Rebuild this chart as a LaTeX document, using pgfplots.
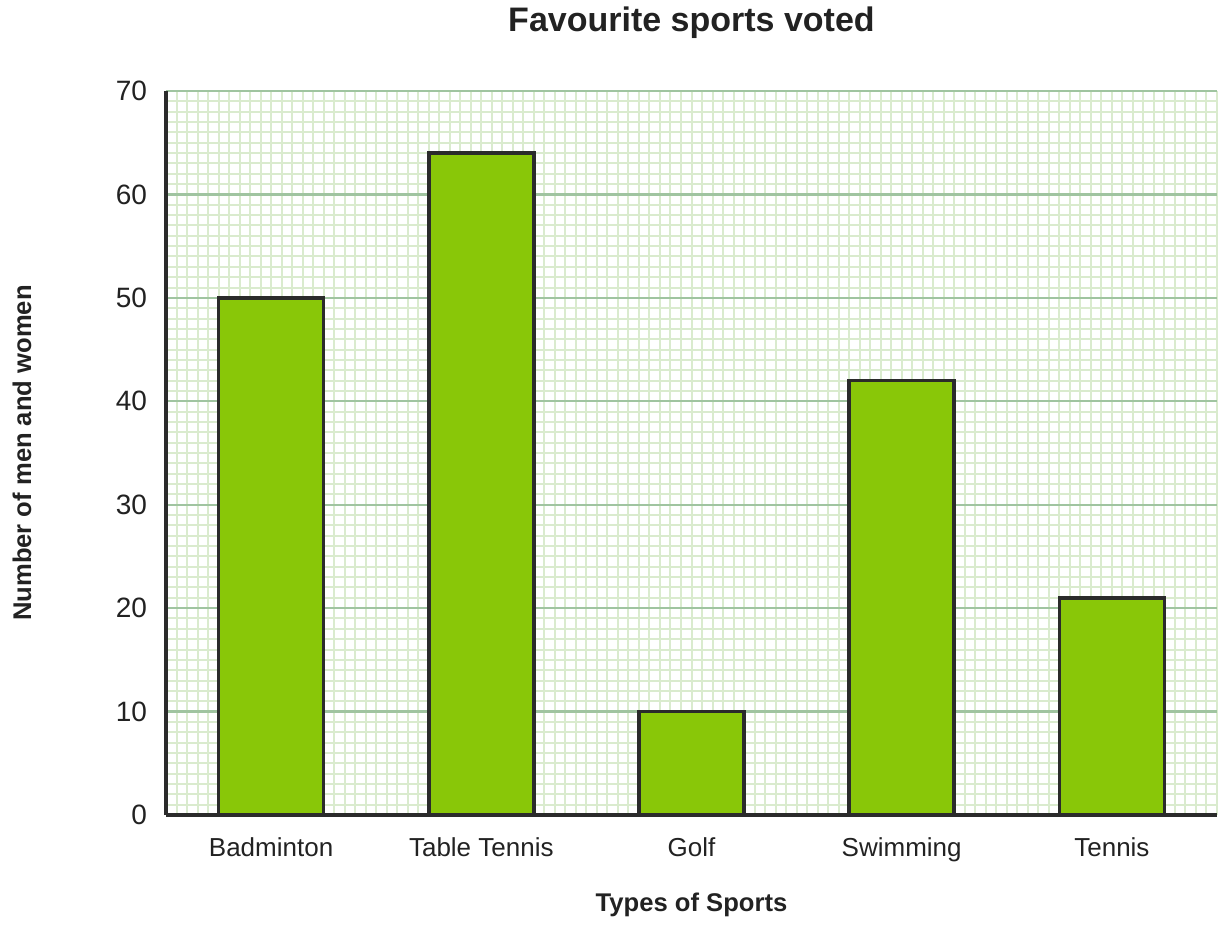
\documentclass[border=0pt]{standalone}
\usepackage{pgfplots}
\pgfplotsset{compat=1.18}
\usepackage{fontspec}
\setmainfont{Liberation Sans}
\definecolor{barfill}{RGB}{137,199,8}
\definecolor{barline}{RGB}{43,43,43}
\definecolor{majgrid}{RGB}{160,196,160}
\definecolor{mingrid}{RGB}{218,235,206}
\definecolor{txt}{RGB}{34,34,34}
\begin{document}
\begin{tikzpicture}
\path[use as bounding box] (0,0) rectangle (614bp,463bp);
\begin{axis}[
  at={(83bp,55.5bp)}, anchor=south west,
  scale only axis, width=525.5bp, height=362bp,
  xmin=-0.5, xmax=4.5, ymin=0, ymax=70,
  axis x line=bottom, axis y line=left,
  axis line style={barline, line width=2bp, -},
  xtick={0,1,2,3,4},
  xticklabels={Badminton,Table Tennis,Golf,Swimming,Tennis},
  ytick={0,10,...,70},
  minor xtick={-0.5,-0.45,...,4.51},
  minor ytick={0,1,...,70},
  major tick length=0pt, minor tick length=0pt,
  xmajorgrids=false, xminorgrids=true,
  ymajorgrids=true, yminorgrids=true,
  major grid style={majgrid, line width=1.1bp},
  minor grid style={mingrid, line width=1bp},
  /pgf/number format/assume math mode=true,
  ticklabel style={font=\fontsize{14bp}{16bp}\selectfont, text=txt},
  yticklabel style={xshift=-6bp},
  xticklabel style={font=\fontsize{13bp}{15bp}\selectfont, yshift=-8bp},
  title={Favourite sports voted},
  title style={font=\bfseries\fontsize{17bp}{20bp}\selectfont, text=txt, at={(axis description cs:0.5,1)}, anchor=center, yshift=28bp},
  xlabel={Types of Sports},
  xlabel style={font=\bfseries\fontsize{12.8bp}{15bp}\selectfont, text=txt, at={(axis description cs:0.5,0)}, anchor=center, yshift=-45bp},
  ylabel={Number of men and women},
  ylabel style={font=\bfseries\fontsize{12.8bp}{15bp}\selectfont, text=txt, at={(axis description cs:0,0.5)}, anchor=center, yshift=72bp},
  ybar, bar width=0.5,
]
\addplot[fill=barfill, draw=barline, line width=1.8bp] coordinates {(0,50) (1,64) (2,10) (3,42) (4,21)};
\end{axis}
\end{tikzpicture}
\end{document}
